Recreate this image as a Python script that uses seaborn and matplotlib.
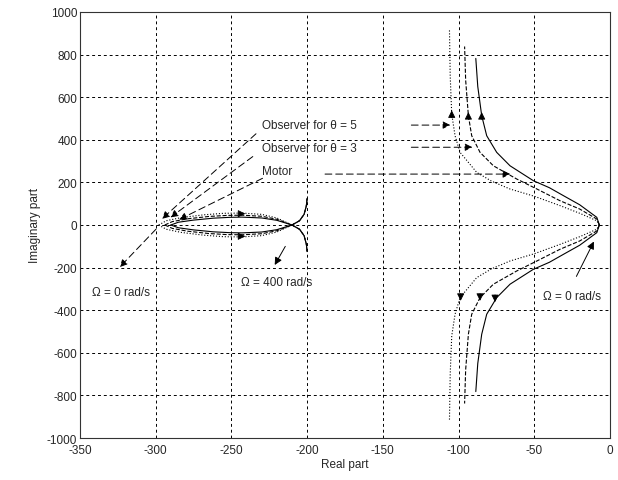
import numpy as np
import pandas as pd
import seaborn as sns
import matplotlib
matplotlib.use("Agg")
import matplotlib.pyplot as plt

# ---- data ----
# left loci (upper branch, lower branch is the conjugate)
left_x_t5 = [-298, -293, -283, -268, -255, -243, -230, -220, -210, -205, -202, -200.5, -200]
left_y_t5 = [0, 20, 35, 48, 55, 56, 50, 33, 0, -20, -50, -90, -125]
left_x_t3 = [-294, -289, -279, -265, -253, -243, -230, -220, -210, -205, -202, -200.5, -200]
left_y_t3 = [0, 16, 29, 40, 45, 46, 41, 27, 0, -20, -50, -90, -125]
left_x_mot = [-290, -285, -275, -262, -251, -243, -230, -220, -210, -205, -202, -200.5, -200]
left_y_mot = [0, 13, 23, 32, 36, 37, 33, 22, 0, -20, -50, -90, -125]

# right loci (upper branch)
right_x_t5 = [-7, -8.7, -20, -33, -50, -66, -78, -88, -99, -102.3, -104.5, -105.5, -106]
right_y_t5 = [0, 20, 55, 91, 135, 169, 205, 247, 341, 419, 521, 700, 920]
right_x_t3 = [-7, -8.7, -20, -33, -48, -61.6, -77, -85.8, -91.3, -93.5, -95.3, -96]
right_y_t3 = [0, 28, 75, 114, 168, 216, 278, 341, 419, 513, 680, 838]
right_x_mot = [-7, -8.7, -20, -30.8, -40, -50.6, -66, -74.8, -81.4, -84.7, -87.3, -88.6]
right_y_mot = [0, 36, 95, 138, 175, 208, 278, 341, 419, 513, 650, 782]

curves = ["θ=5", "θ=3", "Motor"]
styles = {"θ=5": ":", "θ=3": "--", "Motor": "-"}

# arrows on the loci
loop_arrows_x = [-243, -243]
loop_arrows_y = [53, -53]
up_arrows_x = [-104.5, -93.5, -84.7]
up_arrows_y = [521, 513, 513]
down_arrows_x = [-98.6, -85.8, -75.9]
down_arrows_y = [-339, -339, -345]

frames = []
for name, lx, ly, rx, ry in zip(curves,
                                [left_x_t5, left_x_t3, left_x_mot], [left_y_t5, left_y_t3, left_y_mot],
                                [right_x_t5, right_x_t3, right_x_mot], [right_y_t5, right_y_t3, right_y_mot]):
    for side, xs, ys in [("L", lx, ly), ("R", rx, ry)]:
        for sgn, br in [(1, "up"), (-1, "dn")]:
            frames.append(pd.DataFrame({"x": xs, "y": [sgn * v for v in ys],
                                        "curve": name, "seg": side + br}))
df = pd.concat(frames, ignore_index=True)

sns.set_style("white")
plt.rcParams["font.family"] = ["Liberation Sans", "DejaVu Sans"]
plt.rcParams["axes.unicode_minus"] = False

fig, ax = plt.subplots(figsize=(6.18, 4.81), dpi=100)
fig.subplots_adjust(left=0.1294, right=0.987, bottom=0.0873, top=0.973)

for (name, seg), g in df.groupby(["curve", "seg"]):
    sns.lineplot(data=g, x="x", y="y", sort=False, estimator=None, ax=ax,
                 color="k", lw=0.8, linestyle=styles[name])

head = dict(arrowstyle="-|>", color="k", lw=0.6, mutation_scale=11)
for x, y in zip(loop_arrows_x, loop_arrows_y):
    ax.annotate("", xy=(x + 4, y), xytext=(x - 4, y), arrowprops=head)
for x, y in zip(up_arrows_x, up_arrows_y):
    ax.annotate("", xy=(x, y + 30), xytext=(x, y - 30), arrowprops=head)
for x, y in zip(down_arrows_x, down_arrows_y):
    ax.annotate("", xy=(x, y - 30), xytext=(x, y + 30), arrowprops=head)

fs = 8.5
ptr = dict(arrowstyle="-|>", color="k", lw=0.7, mutation_scale=11, linestyle=(0, (7, 4)))
ax.text(-229.8, 469, "Observer for θ = 5", fontsize=fs, va="center")
ax.text(-229.8, 362, "Observer for θ = 3", fontsize=fs, va="center")
ax.text(-229.8, 254, "Motor", fontsize=fs, va="center")
ax.annotate("", xy=(-297.2, 20), xytext=(-232.4, 437), arrowprops=ptr)
ax.annotate("", xy=(-291.7, 28), xytext=(-234.4, 329), arrowprops=ptr)
ax.annotate("", xy=(-286.1, 20), xytext=(-227.8, 225), arrowprops=ptr)
ax.annotate("", xy=(-103.6, 469), xytext=(-133, 469), arrowprops=ptr)
ax.annotate("", xy=(-89, 365), xytext=(-133, 365), arrowprops=ptr)
ax.annotate("", xy=(-64, 239), xytext=(-190, 239), arrowprops=ptr)

ax.text(-342, -315, "Ω = 0 rad/s", fontsize=fs, va="center")
ax.annotate("", xy=(-325, -207), xytext=(-298.5, -10), arrowprops=ptr)
ax.text(-243.6, -268, "Ω = 400 rad/s", fontsize=fs, va="center")
ax.annotate("", xy=(-222.3, -199), xytext=(-213.5, -89),
            arrowprops=dict(arrowstyle="-|>", color="k", lw=0.7, mutation_scale=11))
ax.text(-44.2, -333, "Ω = 0 rad/s", fontsize=fs, va="center")
ax.annotate("", xy=(-9.8, -66), xytext=(-23, -253),
            arrowprops=dict(arrowstyle="-|>", color="k", lw=0.7, mutation_scale=11))

ax.set_xlim(-350, 0)
ax.set_ylim(-1000, 1000)
ax.set_xticks(np.arange(-350, 1, 50))
ax.set_yticks(np.arange(-1000, 1001, 200))
ax.grid(True, color="k", linestyle=(0, (3, 3)), lw=0.7)
ax.tick_params(direction="in", length=3, labelsize=fs, color="k")
ax.tick_params(axis="x", pad=4)
ax.tick_params(axis="y", pad=2)
ax.set_xlabel("Real part", fontsize=fs, labelpad=2)
ax.set_ylabel("Imaginary part", fontsize=fs, labelpad=4)
for s in ax.spines.values():
    s.set_color("#333333")
    s.set_linewidth(0.8)

fig.savefig("out.png", dpi=100)
